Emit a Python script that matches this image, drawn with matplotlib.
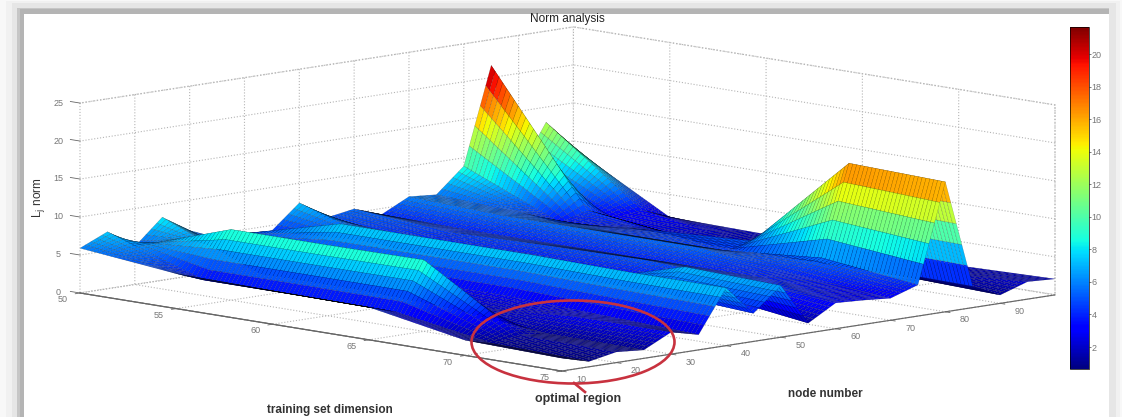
import matplotlib
matplotlib.use('Agg')
import matplotlib.pyplot as plt
import numpy as np
from matplotlib.patches import Ellipse, Rectangle
from mpl_toolkits.mplot3d import proj3d

plt.rcParams['font.family'] = 'Liberation Sans'

# Values: L1 norm at the knots of the surface
train_dim = [50, 55, 60, 65, 70, 75]
nodes = [10, 15, 20, 25, 30, 35, 40, 45, 50, 55, 60, 65, 70, 75, 80, 85, 90, 95, 100]
norm_50 = [5.9, 7.5, 5.0, 8.3, 6.0, 4.5, 4.5, 4.3, 7.4, 4.9, 5.5, 4.2, 6.0, 5.7, 8.9, 21.6, 7.0, 13.0, 9.0]
norm_55 = [4.6, 3.2, 9.3, 3.0, 2.0, 3.0, 7.8, 5.0, 3.5, 4.0, 4.5, 4.0, 5.5, 5.0, 3.5, 4.6, 3.0, 3.5, 2.0]
norm_60 = [4.4, 3.2, 9.3, 3.0, 2.0, 3.0, 7.8, 4.5, 3.5, 3.5, 4.8, 4.0, 5.5, 4.5, 4.5, 3.0, 1.5, 1.5, 1.8]
norm_65 = [4.3, 3.1, 9.4, 2.5, 2.0, 3.0, 7.8, 4.5, 3.5, 3.5, 5.0, 4.0, 5.5, 4.5, 5.2, 3.0, 1.5, 1.5, 1.8]
norm_70 = [2.0, 1.0, 1.6, 1.2, 2.9, 2.5, 7.6, 4.5, 7.2, 3.0, 4.5, 4.0, 4.0, 5.6, 17.5, 3.0, 1.5, 1.5, 1.8]
norm_75 = [1.7, 0.7, 1.4, 1.1, 2.9, 2.0, 7.6, 3.7, 6.8, 1.3, 3.4, 3.2, 2.9, 4.1, 17.1, 2.8, 1.1, 2.3, 2.1]

train_ticks = [50, 55, 60, 65, 70, 75]
node_ticks = [10, 20, 30, 40, 50, 60, 70, 80, 90]
norm_ticks = [0, 5, 10, 15, 20, 25]
cbar_ticks = [2, 4, 6, 8, 10, 12, 14, 16, 18, 20]
cbar_min, cbar_max = 0.65, 21.66

W, H = 1122, 417
fig = plt.figure(figsize=(W / 100, H / 100), dpi=100, facecolor='white')

# picture frame with its soft grey shadow, in pixel coordinates
bg = fig.add_axes([0, 0, 1, 1], zorder=0)
bg.set_xlim(0, W)
bg.set_ylim(H, 0)
bg.axis('off')
frame = [(0, 0, 1122, '#f8f8f8'), (6, 1, 1120, '#f1f1f1'), (12, 3, 1116, '#e6e6e6'),
         (17, 8, 1109, '#c6c6c6'), (20, 9, 1109, '#b4b4b4'), (24, 14, 1109, 'white')]
for left, top, right, col in frame:
    bg.add_patch(Rectangle((left, top), right - left, H - top, color=col, lw=0))

ax = fig.add_axes([0, 0, 0.9, 0.9], projection='3d', proj_type='ortho', zorder=1)
ax.patch.set_alpha(0)
ax.set_xlim(50, 75, view_margin=0)
ax.set_ylim(10, 100, view_margin=0)
ax.set_zlim(0, 25, view_margin=0)
ax.view_init(elev=9.1, azim=-44.3)
ax.set_box_aspect((1, 1, 0.279))


def to_px(t, n, z):
    xs, ys, _ = proj3d.proj_transform(t, n, z, ax.get_proj())
    return ax.transData.transform((xs, ys))


# size and place the square 3d axes so the box corners land where they are in the picture
side = 1000.0
ax.set_position([0, 0, side / W, side / H])
ax.apply_aspect()
side *= (1055 - 80) / (to_px(75, 100, 0)[0] - to_px(50, 10, 0)[0])
ax.set_position([0, 0, side / W, side / H])
ax.apply_aspect()
corner = to_px(50, 10, 0)
ax.set_position([(80 - corner[0]) / W, (H - 293 - corner[1]) / H, side / W, side / H])
ax.apply_aspect()

# the reference surface is a fine mesh over these knots: one facet per node, thin stripes along train_dim
knots = np.array([norm_50, norm_55, norm_60, norm_65, norm_70, norm_75])
mesh_t = np.arange(50, 75.01, 0.2)
mesh_n = np.arange(10, 100.01, 1.0)
by_node = np.array([np.interp(mesh_n, nodes, row) for row in knots])
Z = np.array([np.interp(mesh_t, train_dim, col) for col in by_node.T]).T
T, N = np.meshgrid(mesh_t, mesh_n, indexing='ij')

norm = plt.Normalize(cbar_min, cbar_max)
cmap = plt.get_cmap('jet')
facet_z = (Z[:-1, :-1] + Z[1:, :-1] + Z[:-1, 1:] + Z[1:, 1:]) / 4
surf = ax.plot_surface(T, N, Z, rstride=1, cstride=1, facecolors=cmap(norm(facet_z)),
                       linewidth=0.25, shade=False, antialiased=True)
surf.set_edgecolor((0, 0, 0, 0.35))
surf.set_clip_on(False)

# axes styling
for axis in (ax.xaxis, ax.yaxis, ax.zaxis):
    axis.set_pane_color((1, 1, 1, 1))
    axis.pane.set_edgecolor('#c4c4c4')
    axis.pane.set_linestyle(':')
    axis.line.set_color('#666666')
    axis.line.set_linewidth(0.8)
    axis._axinfo['grid'].update(color='#b5b5b5', linestyle=':', linewidth=0.8)
    axis._axinfo['tick'].update(inward_factor=0.12, outward_factor=0.0, linewidth={True: 0.6, False: 0.6})
ax.zaxis._axinfo['juggled'] = (1, 0, 2)
ax.zaxis._axinfo['tick'].update(inward_factor=0.0, outward_factor=0.25)
ax.set_xticks(train_ticks)
ax.set_yticks(node_ticks)
ax.set_zticks(norm_ticks)
ax.tick_params(labelsize=6.5, labelcolor='#777777', color='#666666', pad=1)
ax.tick_params(axis='y', pad=3)
ax.tick_params(axis='z', pad=0)
for lab in ax.get_xticklabels():
    lab.set_ha('right')
    lab.set_va('center')
for lab in ax.get_yticklabels():
    lab.set_ha('left')
    lab.set_va('center')
for lab in ax.get_zticklabels():
    lab.set_va('center')

# colorbar
cax = fig.add_axes([1070 / W, (H - 369) / H, 19 / W, 342 / H], zorder=2)
cb = fig.colorbar(plt.cm.ScalarMappable(norm=norm, cmap=cmap), cax=cax, ticks=cbar_ticks)
cb.ax.tick_params(labelsize=6.5, labelcolor='#777777', length=1.5, width=0.5, pad=0.5, color='#444444')
cb.outline.set_linewidth(0.5)

# overlay in pixel coordinates: titles, labels, hand drawn circle
top = fig.add_axes([0, 0, 1, 1], zorder=3)
top.set_xlim(0, W)
top.set_ylim(H, 0)
top.axis('off')
top.add_patch(Ellipse((573, 342), 203, 83, fill=False, ec='#c8323f', lw=1.9))
top.plot([574, 585], [383, 392], color='#c8323f', lw=1.9)
top.text(567, 19, 'Norm analysis', ha='center', va='center', fontsize=8.5, color='#222222')
top.text(330, 410, 'training set dimension', ha='center', va='center', fontsize=8.5, color='#333333', fontweight='bold')
top.text(578, 399, 'optimal region', ha='center', va='center', fontsize=9, color='#333333', fontweight='bold')
top.text(825, 394, 'node number', ha='center', va='center', fontsize=8.5, color='#333333', fontweight='bold')
top.text(39, 198, r'L$_{\mathrm{j}}$ norm', ha='center', va='center', rotation=90, fontsize=8.5, color='#333333')

plt.savefig('out.png', dpi=100)
